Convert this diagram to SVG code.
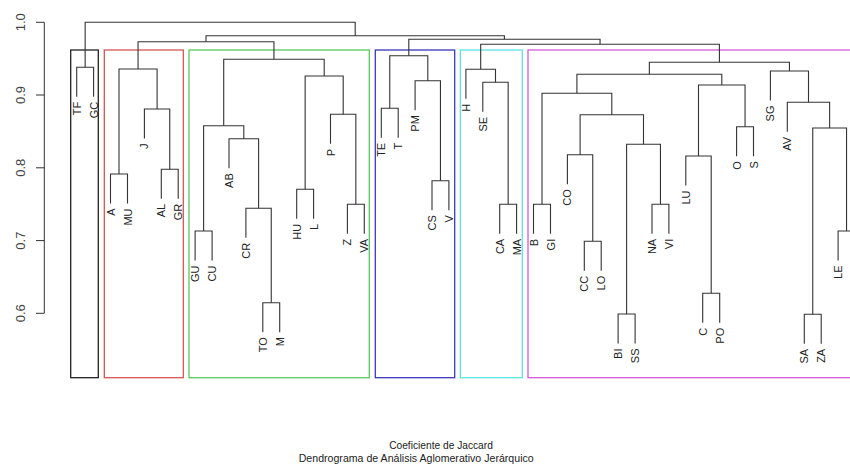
<svg xmlns="http://www.w3.org/2000/svg" width="850" height="469" viewBox="0 0 850 469">
<style>
.bg{fill:#ffffff}
.ln{fill:none;stroke:#333333;stroke-width:1.1}
.ax{fill:none;stroke:#333333;stroke-width:1}
.box{fill:none;stroke-width:1.3}
.lbl{font-family:"Liberation Sans",Arial,sans-serif;font-size:11px;fill:#222222;text-anchor:end}
.tk{font-family:"Liberation Sans",Arial,sans-serif;font-size:13px;fill:#444444;text-anchor:middle}
.ttl{font-family:"Liberation Sans",Arial,sans-serif;fill:#222222;text-anchor:middle}
</style>
<rect class="bg" x="0" y="0" width="850" height="469"/>
<g id="axis">
<path class="ax" d="M44.3 22.3 V313.3 M36 22.3 H44.3 M36 95 H44.3 M36 167.8 H44.3 M36 240.6 H44.3 M36 313.3 H44.3"/>
<text class="tk" transform="translate(25 22.3) rotate(-90)">1.0</text>
<text class="tk" transform="translate(25 95) rotate(-90)">0.9</text>
<text class="tk" transform="translate(25 167.8) rotate(-90)">0.8</text>
<text class="tk" transform="translate(25 240.6) rotate(-90)">0.7</text>
<text class="tk" transform="translate(25 313.3) rotate(-90)">0.6</text>
</g>
<g id="clusters">
<rect id="box-black" class="box" x="70.7" y="50" width="27.6" height="327.7" stroke="#222222"/>
<rect id="box-red" class="box" x="104.3" y="50" width="79" height="327.7" stroke="#d65656"/>
<rect id="box-green" class="box" x="189" y="50" width="180.3" height="327.7" stroke="#5cc85c"/>
<rect id="box-blue" class="box" x="375.3" y="50" width="79.4" height="327.7" stroke="#3a3ab8"/>
<rect id="box-cyan" class="box" x="460.3" y="50" width="62" height="327.7" stroke="#5ee2e2"/>
<rect id="box-magenta" class="box" x="528" y="50" width="340" height="327.7" stroke="#d65ad8"/>
</g>
<g id="connectors">
<path class="ln" d="M76.7 96.8 V67.3 H93.6 V96.8"/>
<path class="ln" d="M110.5 203.5 V174 H127.5 V203.5"/>
<path class="ln" d="M161.3 198.8 V169.3 H178.2 V198.8"/>
<path class="ln" d="M144.4 138.5 V109 H169.75 V169.3"/>
<path class="ln" d="M119 174 V69 H157.1 V109"/>
<path class="ln" d="M195.1 260.5 V231 H212.1 V260.5"/>
<path class="ln" d="M262.8 332.2 V302.7 H279.7 V332.2"/>
<path class="ln" d="M245.9 237.8 V208.3 H271.25 V302.7"/>
<path class="ln" d="M229 168.2 V138.7 H258.6 V208.3"/>
<path class="ln" d="M203.6 231 V125.7 H243.8 V138.7"/>
<path class="ln" d="M296.7 218.8 V189.3 H313.6 V218.8"/>
<path class="ln" d="M347.4 233.8 V204.3 H364.3 V233.8"/>
<path class="ln" d="M330.5 143.8 V114.3 H355.85 V204.3"/>
<path class="ln" d="M305.15 189.3 V76 H343.2 V114.3"/>
<path class="ln" d="M223.7 125.7 V59.3 H324.2 V76"/>
<path class="ln" d="M138.05 69 V41.7 H273.95 V59.3"/>
<path class="ln" d="M381.3 137.8 V108.3 H398.2 V137.8"/>
<path class="ln" d="M432 210.2 V180.7 H448.9 V210.2"/>
<path class="ln" d="M415.1 110.2 V80.7 H440.45 V180.7"/>
<path class="ln" d="M389.75 108.3 V55.7 H427.8 V80.7"/>
<path class="ln" d="M499.7 233.8 V204.3 H516.6 V233.8"/>
<path class="ln" d="M482.8 111.8 V82.3 H508.15 V204.3"/>
<path class="ln" d="M465.9 98.8 V69.3 H495.5 V82.3"/>
<path class="ln" d="M533.5 233.8 V204.3 H550.5 V233.8"/>
<path class="ln" d="M584.3 270.8 V241.3 H601.2 V270.8"/>
<path class="ln" d="M567.4 184.2 V154.7 H592.75 V241.3"/>
<path class="ln" d="M618.1 343.5 V314 H635.1 V343.5"/>
<path class="ln" d="M652 233.8 V204.3 H668.9 V233.8"/>
<path class="ln" d="M626.6 314 V144.3 H660.45 V204.3"/>
<path class="ln" d="M580.1 154.7 V114.7 H643.5 V144.3"/>
<path class="ln" d="M542 204.3 V93.3 H611.8 V114.7"/>
<path class="ln" d="M702.7 322.8 V293.3 H719.7 V322.8"/>
<path class="ln" d="M685.8 185.5 V156 H711.2 V293.3"/>
<path class="ln" d="M736.6 156.2 V126.7 H753.5 V156.2"/>
<path class="ln" d="M698.5 156 V85 H745.05 V126.7"/>
<path class="ln" d="M576.9 93.3 V74.3 H721.8 V85"/>
<path class="ln" d="M804.3 343.8 V314.3 H821.2 V343.8"/>
<path class="ln" d="M838.1 260.5 V231 H855 V260.5"/>
<path class="ln" d="M812.75 314.3 V128 H846.55 V231"/>
<path class="ln" d="M787.3 131.8 V102.3 H829.65 V128"/>
<path class="ln" d="M770.4 100.5 V71 H808.5 V102.3"/>
<path class="ln" d="M649.35 74.3 V62.3 H789.45 V71"/>
<path class="ln" d="M480.7 69.3 V44.3 H719.4 V62.3"/>
<path class="ln" d="M408.8 55.7 V39.3 H600.05 V44.3"/>
<path class="ln" d="M206 41.7 V35.7 H504.4 V39.3"/>
<path class="ln" d="M85.15 67.3 V22.3 H355.2 V35.7"/>
</g>
<g id="leaves">
<text id="n-TF" class="lbl" transform="translate(80.7 101.8) rotate(-90)">TF</text>
<text id="n-GC" class="lbl" transform="translate(97.6 101.8) rotate(-90)">GC</text>
<text id="n-A" class="lbl" transform="translate(114.5 208.5) rotate(-90)">A</text>
<text id="n-MU" class="lbl" transform="translate(131.5 208.5) rotate(-90)">MU</text>
<text id="n-J" class="lbl" transform="translate(148.4 143.5) rotate(-90)">J</text>
<text id="n-AL" class="lbl" transform="translate(165.3 203.8) rotate(-90)">AL</text>
<text id="n-GR" class="lbl" transform="translate(182.2 203.8) rotate(-90)">GR</text>
<text id="n-GU" class="lbl" transform="translate(199.1 265.5) rotate(-90)">GU</text>
<text id="n-CU" class="lbl" transform="translate(216.1 265.5) rotate(-90)">CU</text>
<text id="n-AB" class="lbl" transform="translate(233 173.2) rotate(-90)">AB</text>
<text id="n-CR" class="lbl" transform="translate(249.9 242.8) rotate(-90)">CR</text>
<text id="n-TO" class="lbl" transform="translate(266.8 337.2) rotate(-90)">TO</text>
<text id="n-M" class="lbl" transform="translate(283.7 337.2) rotate(-90)">M</text>
<text id="n-HU" class="lbl" transform="translate(300.7 223.8) rotate(-90)">HU</text>
<text id="n-L" class="lbl" transform="translate(317.6 223.8) rotate(-90)">L</text>
<text id="n-P" class="lbl" transform="translate(334.5 148.8) rotate(-90)">P</text>
<text id="n-Z" class="lbl" transform="translate(351.4 238.8) rotate(-90)">Z</text>
<text id="n-VA" class="lbl" transform="translate(368.3 238.8) rotate(-90)">VA</text>
<text id="n-TE" class="lbl" transform="translate(385.3 142.8) rotate(-90)">TE</text>
<text id="n-T" class="lbl" transform="translate(402.2 142.8) rotate(-90)">T</text>
<text id="n-PM" class="lbl" transform="translate(419.1 115.2) rotate(-90)">PM</text>
<text id="n-CS" class="lbl" transform="translate(436 215.2) rotate(-90)">CS</text>
<text id="n-V" class="lbl" transform="translate(452.9 215.2) rotate(-90)">V</text>
<text id="n-H" class="lbl" transform="translate(469.9 103.8) rotate(-90)">H</text>
<text id="n-SE" class="lbl" transform="translate(486.8 116.8) rotate(-90)">SE</text>
<text id="n-CA" class="lbl" transform="translate(503.7 238.8) rotate(-90)">CA</text>
<text id="n-MA" class="lbl" transform="translate(520.6 238.8) rotate(-90)">MA</text>
<text id="n-B" class="lbl" transform="translate(537.5 238.8) rotate(-90)">B</text>
<text id="n-GI" class="lbl" transform="translate(554.5 238.8) rotate(-90)">GI</text>
<text id="n-CO" class="lbl" transform="translate(571.4 189.2) rotate(-90)">CO</text>
<text id="n-CC" class="lbl" transform="translate(588.3 275.8) rotate(-90)">CC</text>
<text id="n-LO" class="lbl" transform="translate(605.2 275.8) rotate(-90)">LO</text>
<text id="n-BI" class="lbl" transform="translate(622.1 348.5) rotate(-90)">BI</text>
<text id="n-SS" class="lbl" transform="translate(639.1 348.5) rotate(-90)">SS</text>
<text id="n-NA" class="lbl" transform="translate(656 238.8) rotate(-90)">NA</text>
<text id="n-VI" class="lbl" transform="translate(672.9 238.8) rotate(-90)">VI</text>
<text id="n-LU" class="lbl" transform="translate(689.8 190.5) rotate(-90)">LU</text>
<text id="n-C" class="lbl" transform="translate(706.7 327.8) rotate(-90)">C</text>
<text id="n-PO" class="lbl" transform="translate(723.7 327.8) rotate(-90)">PO</text>
<text id="n-O" class="lbl" transform="translate(740.6 161.2) rotate(-90)">O</text>
<text id="n-S" class="lbl" transform="translate(757.5 161.2) rotate(-90)">S</text>
<text id="n-SG" class="lbl" transform="translate(774.4 105.5) rotate(-90)">SG</text>
<text id="n-AV" class="lbl" transform="translate(791.3 136.8) rotate(-90)">AV</text>
<text id="n-SA" class="lbl" transform="translate(808.3 348.8) rotate(-90)">SA</text>
<text id="n-ZA" class="lbl" transform="translate(825.2 348.8) rotate(-90)">ZA</text>
<text id="n-LE" class="lbl" transform="translate(842.1 265.5) rotate(-90)">LE</text>
</g>
<g id="titles">
<text class="ttl" x="441" y="448.5" font-size="10.2">Coeficiente de Jaccard</text>
<text class="ttl" x="416.2" y="461.5" font-size="10.6">Dendrograma de Análisis Aglomerativo Jerárquico</text>
</g>
</svg>
